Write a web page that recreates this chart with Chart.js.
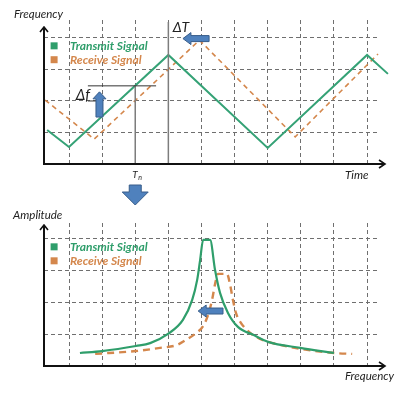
<!DOCTYPE html>
<html>
<head>
<meta charset="utf-8">
<script src="https://cdn.jsdelivr.net/npm/chart.js@4.4.1/dist/chart.umd.min.js"></script>
<style>
html, body { margin: 0; padding: 0; background: #fff; }
#wrap { position: relative; width: 411px; height: 396px; overflow: hidden; }
canvas { position: absolute; left: 0; top: 0; }
</style>
</head>
<body>
<div id="wrap">
  <canvas id="timeChart" width="411" height="396"></canvas>
  <canvas id="freqChart" width="411" height="396"></canvas>
</div>
<script>
// positions of the dashed grid lines (grid units)
const gridX = [1, 2, 3, 4, 5, 6, 7, 8, 9, 10];
const gridY = [1, 2, 3, 4];

// top chart: frequency over time (triangle sweep)
const transmitTime = [0.34, 1, 4, 7, 10, 10.63];
const transmitFreq = [1.08, 0.54, 3.46, 0.51, 3.46, 2.86];
const receiveTime = [0.28, 1.76, 4.94, 7.83, 10.33];
const receiveFreq = [2.03, 0.79, 3.93, 0.86, 3.49];

// bottom chart: amplitude over frequency
const transmitSpecX = [1.33, 2.0, 3.02, 3.45, 3.99, 4.44, 4.72, 4.87, 4.96, 5.05, 5.26, 5.41, 5.56, 5.80, 6.10, 6.56, 7.01, 7.98, 9.0];
const transmitSpecY = [0.41, 0.47, 0.63, 0.72, 1.01, 1.45, 2.08, 2.71, 3.34, 3.97, 3.97, 3.02, 2.30, 1.67, 1.23, 0.98, 0.76, 0.57, 0.41];
const receiveSpecX = [1.79, 3.02, 3.75, 4.26, 4.53, 4.81, 5.05, 5.20, 5.32, 5.41, 5.50, 5.77, 5.86, 5.95, 6.04, 6.17, 6.47, 6.77, 7.01, 7.98, 9.0, 9.55];
const receiveSpecY = [0.38, 0.47, 0.57, 0.66, 0.82, 1.01, 1.26, 1.61, 2.08, 2.58, 2.90, 2.90, 2.58, 2.08, 1.67, 1.39, 1.04, 0.85, 0.76, 0.54, 0.41, 0.38];

const seriesNames = ['Transmit Signal', 'Receive Signal'];
const GREEN = '#2f9e6b';
const ORANGE = '#d4874c';
const BLUE = '#4f81bd';
const BLUE_EDGE = '#385d8a';

const toPoints = (xs, ys) => xs.map((x, i) => ({ x: x, y: ys[i] }));

// helpers de desenho
function line(ctx, x1, y1, x2, y2, color, width) {
    ctx.beginPath();
    ctx.moveTo(x1, y1);
    ctx.lineTo(x2, y2);
    ctx.strokeStyle = color;
    ctx.lineWidth = width;
    ctx.setLineDash([]);
    ctx.stroke();
}

function poly(ctx, pts) {
    ctx.beginPath();
    pts.forEach((p, i) => i ? ctx.lineTo(p[0], p[1]) : ctx.moveTo(p[0], p[1]));
    ctx.closePath();
    ctx.fillStyle = BLUE;
    ctx.fill();
    ctx.strokeStyle = BLUE_EDGE;
    ctx.lineWidth = 1;
    ctx.setLineDash([]);
    ctx.stroke();
}

function leftArrow(ctx, tip, tail, y) {
    const hb = tip + 8;
    poly(ctx, [[tip, y], [hb, y - 6], [hb, y - 3], [tail, y - 3], [tail, y + 3], [hb, y + 3], [hb, y + 6]]);
}

function upArrow(ctx, x, tip, tail) {
    const hb = tip + 7;
    poly(ctx, [[x, tip], [x + 6.5, hb], [x + 3.5, hb], [x + 3.5, tail], [x - 3.5, tail], [x - 3.5, hb], [x - 6.5, hb]]);
}

function downArrow(ctx, x, top, tip) {
    const hb = tip - 13;
    poly(ctx, [[x, tip], [x - 13, hb], [x - 6, hb], [x - 6, top], [x + 6, top], [x + 6, hb], [x + 13, hb]]);
}

function axes(ctx, area, yTip, xTip) {
    ctx.strokeStyle = '#111';
    ctx.lineWidth = 2;
    ctx.setLineDash([]);
    ctx.beginPath();
    ctx.moveTo(area.left, yTip);
    ctx.lineTo(area.left, area.bottom);
    ctx.lineTo(xTip, area.bottom);
    ctx.stroke();
    ctx.lineWidth = 1.6;
    ctx.beginPath();
    ctx.moveTo(area.left - 4, yTip + 5);
    ctx.lineTo(area.left, yTip);
    ctx.lineTo(area.left + 4, yTip + 5);
    ctx.moveTo(xTip - 6, area.bottom - 4);
    ctx.lineTo(xTip, area.bottom);
    ctx.lineTo(xTip - 6, area.bottom + 4);
    ctx.stroke();
}

function text(ctx, str, x, y, font, color) {
    ctx.font = font;
    ctx.fillStyle = color;
    ctx.textAlign = 'left';
    ctx.textBaseline = 'middle';
    ctx.fillText(str, x, y);
}

function legend(ctx, X, Y) {
    const colors = [GREEN, ORANGE];
    [3.75, 3.31].forEach((v, i) => {
        ctx.fillStyle = colors[i];
        ctx.fillRect(X(0.55) - 3.5, Y(v) - 3.5, 7, 7);
        text(ctx, seriesNames[i], X(1.03), Y(v), 'italic bold 12px Lato', colors[i]);
    });
}

const decorTop = {
    id: 'decorTop',
    afterDatasetsDraw(chart) {
        const { ctx, chartArea: a, scales: { x, y } } = chart;
        const X = v => x.getPixelForValue(v);
        const Y = v => y.getPixelForValue(v);
        ctx.save();
        // linhas de Tn e ΔT
        line(ctx, X(3), Y(2.48), X(3), a.bottom, '#7d7d7d', 1.5);
        line(ctx, X(4), a.top + 2, X(4), a.bottom, '#7d7d7d', 1.5);
        // Δf
        line(ctx, X(1.57), Y(2.48), X(3.63), Y(2.48), '#333', 1);
        line(ctx, X(1.57), Y(2), X(1.95), Y(2), '#333', 1);
        upArrow(ctx, X(1.92), Y(2.29), Y(1.49));
        leftArrow(ctx, X(4.44), X(5.23), Y(3.98));
        downArrow(ctx, X(3), a.bottom + 21, a.bottom + 41);
        axes(ctx, a, a.top + 7, a.right + 8);
        text(ctx, 'Frequency', 14, 14, 'italic 11.5px Lato', '#222');
        text(ctx, 'Time', 345, a.bottom + 11, 'italic 11.5px Lato', '#222');
        text(ctx, 'Δf', X(1.2), Y(2.2), 'italic 15px Lato', '#222');
        text(ctx, 'ΔT', X(4.13), Y(4.32), 'italic 14px Lato', '#222');
        text(ctx, 'T', X(3) - 3, a.bottom + 11, 'italic 10px Lato', '#222');
        text(ctx, 'n', X(3) + 3, a.bottom + 14, 'italic 7px Lato', '#222');
        legend(ctx, X, Y);
        ctx.restore();
    }
};

const decorBottom = {
    id: 'decorBottom',
    afterDatasetsDraw(chart) {
        const { ctx, chartArea: a, scales: { x, y } } = chart;
        const X = v => x.getPixelForValue(v);
        const Y = v => y.getPixelForValue(v);
        ctx.save();
        leftArrow(ctx, X(4.9), X(5.65), Y(1.73));
        axes(ctx, a, a.top + 2, a.right + 8);
        text(ctx, 'Amplitude', 13, a.top - 8, 'italic 11.5px Lato', '#222');
        text(ctx, 'Frequency', 345, a.bottom + 10, 'italic 11.5px Lato', '#222');
        legend(ctx, X, Y);
        ctx.restore();
    }
};

function scaleOpts(min, max, ticks) {
    return {
        type: 'linear',
        min: min,
        max: max,
        afterBuildTicks: s => { s.ticks = ticks.map(v => ({ value: v })); },
        ticks: { display: false },
        grid: { color: '#6f6f6f', lineWidth: 1, drawTicks: false },
        border: { display: false, dash: [4, 3] }
    };
}

function makeChart(id, datasets, padding, yMax, plugin) {
    return new Chart(document.getElementById(id).getContext('2d'), {
        type: 'line',
        data: { datasets: datasets },
        options: {
            responsive: false,
            animation: false,
            events: [],
            layout: { padding: padding },
            plugins: { legend: { display: false }, tooltip: { enabled: false } },
            scales: {
                x: scaleOpts(0.245, 10.3, gridX),
                y: scaleOpts(0, yMax, gridY)
            }
        },
        plugins: [plugin]
    });
}

makeChart('timeChart', [{
    label: seriesNames[0],
    data: toPoints(transmitTime, transmitFreq),
    borderColor: '#35a276',
    borderWidth: 2,
    pointRadius: 0,
    tension: 0,
    clip: false
}, {
    label: seriesNames[1],
    data: toPoints(receiveTime, receiveFreq),
    borderColor: ORANGE,
    borderWidth: 1.6,
    borderDash: [5, 4],
    pointRadius: 0,
    tension: 0,
    clip: false
}], { left: 44, top: 20, right: 34, bottom: 232 }, 4.57, decorTop);

makeChart('freqChart', [{
    label: seriesNames[0],
    data: toPoints(transmitSpecX, transmitSpecY),
    borderColor: GREEN,
    borderWidth: 2.2,
    pointRadius: 0,
    cubicInterpolationMode: 'monotone',
    clip: false
}, {
    label: seriesNames[1],
    data: toPoints(receiveSpecX, receiveSpecY),
    borderColor: ORANGE,
    borderWidth: 2.4,
    borderDash: [7, 5],
    pointRadius: 0,
    cubicInterpolationMode: 'monotone',
    clip: false
}], { left: 44, top: 223, right: 34, bottom: 30 }, 4.5, decorBottom);
</script>
</body>
</html>
